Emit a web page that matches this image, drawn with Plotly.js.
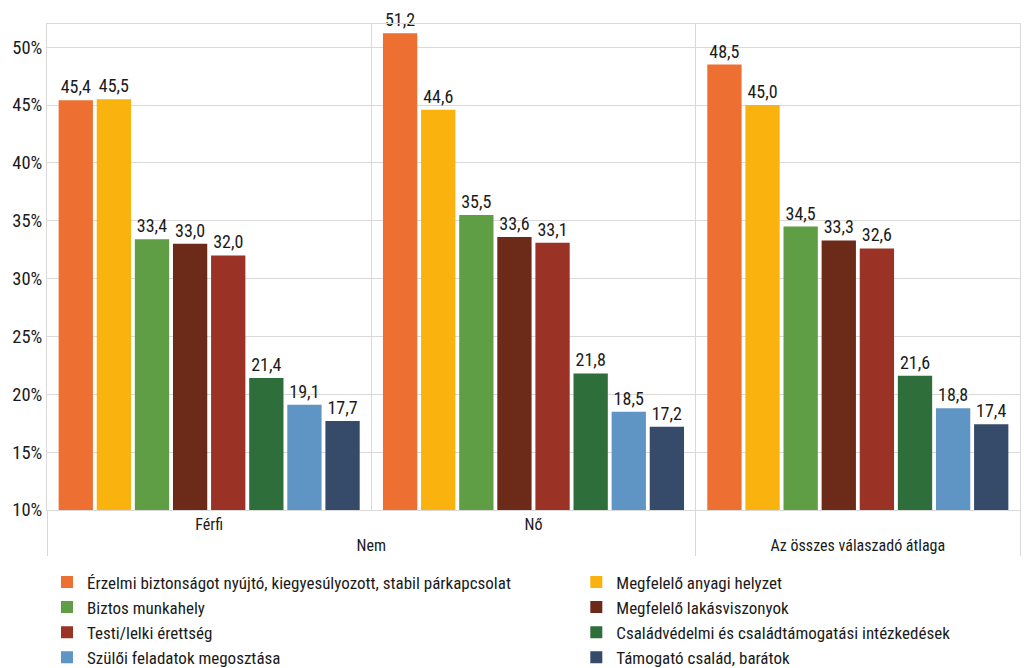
<!DOCTYPE html>
<html><head><meta charset="utf-8">
<script src="https://cdn.plot.ly/plotly-3.0.1.min.js"></script>
<style>html,body{margin:0;padding:0;background:#fff}#chart{width:1024px;height:668px}</style>
</head><body><div id="chart"></div>
<script>
const outerCategories = ["Nem", "Nem", "Az összes válaszadó átlaga"];
const innerCategories = ["Férfi", "Nő", " "];
const seriesNames = [
  "Érzelmi biztonságot nyújtó, kiegyesúlyozott, stabil párkapcsolat",
  "Megfelelő anyagi helyzet",
  "Biztos munkahely",
  "Megfelelő lakásviszonyok",
  "Testi/lelki érettség",
  "Családvédelmi és családtámogatási intézkedések",
  "Szülői feladatok megosztása",
  "Támogató család, barátok"
];
const erzelmi = [45.4, 51.2, 48.5];
const anyagi = [45.5, 44.6, 45.0];
const munkahely = [33.4, 35.5, 34.5];
const lakas = [33.0, 33.6, 33.3];
const erettseg = [32.0, 33.1, 32.6];
const csaladvedelmi = [21.4, 21.8, 21.6];
const szuloi = [19.1, 18.5, 18.8];
const tamogato = [17.7, 17.2, 17.4];
const seriesValues = [erzelmi, anyagi, munkahely, lakas, erettseg, csaladvedelmi, szuloi, tamogato];
const yTickVals = [10, 15, 20, 25, 30, 35, 40, 45, 50];
const yTickText = ["10%", "15%", "20%", "25%", "30%", "35%", "40%", "45%", "50%"];
const colors = ["#ED7032", "#F9B20E", "#5F9E44", "#6B2B18", "#9A3326", "#2D6E3A", "#5E95C4", "#364A6A"];

const FONT = "Roboto Condensed, Liberation Sans Narrow, Roboto, sans-serif";

const traces = seriesNames.map((name, i) => ({
  type: "bar",
  name: name,
  legend: i % 2 === 0 ? "legend" : "legend2",
  x: [outerCategories, innerCategories],
  y: seriesValues[i],
  marker: { color: colors[i], line: { width: 0 } },
  texttemplate: "%{y:.1f}",
  textposition: "outside",
  cliponaxis: false,
  textfont: { family: FONT, size: 18, color: "#1a1a1a" },
  hoverinfo: "skip"
}));

const legendCommon = {
  orientation: "v",
  xref: "paper", xanchor: "left",
  yref: "container", y: 0.155, yanchor: "top",
  traceorder: "normal",
  font: { family: FONT, size: 17, color: "#1a1a1a" },
  itemwidth: 30,
  bgcolor: "rgba(0,0,0,0)"
};

const layout = {
  width: 1024, height: 668,
  margin: { l: 47, r: 4, t: 24, b: 158 },
  paper_bgcolor: "#fff", plot_bgcolor: "#fff",
  separators: ", ",
  barmode: "group",
  bargap: 0.06,
  bargroupgap: 0.1,
  font: { family: FONT, size: 16, color: "#1a1a1a" },
  showlegend: true,
  xaxis: {
    type: "multicategory",
    showgrid: true, gridcolor: "#d9d9d9", gridwidth: 1,
    tickson: "boundaries",
    showline: true, linecolor: "#d9d9d9", linewidth: 1, mirror: true,
    showdividers: true, dividercolor: "#d9d9d9", dividerwidth: 1,
    ticks: "",
    tickfont: { family: FONT, size: 16, color: "#1a1a1a" }
  },
  yaxis: {
    range: [10, 52],
    tickmode: "array",
    tickvals: yTickVals,
    ticktext: yTickText,
    showgrid: true, gridcolor: "#d9d9d9", gridwidth: 1,
    zeroline: false,
    showline: true, linecolor: "#d9d9d9", linewidth: 1, mirror: true,
    ticks: "",
    tickfont: { family: FONT, size: 18.5, color: "#1a1a1a" }
  },
  legend: Object.assign({}, legendCommon, { x: 0.0 }),
  legend2: Object.assign({}, legendCommon, { x: 0.544 })
};

Plotly.newPlot("chart", traces, layout, { displayModeBar: false, staticPlot: true });
</script>
</body></html>
